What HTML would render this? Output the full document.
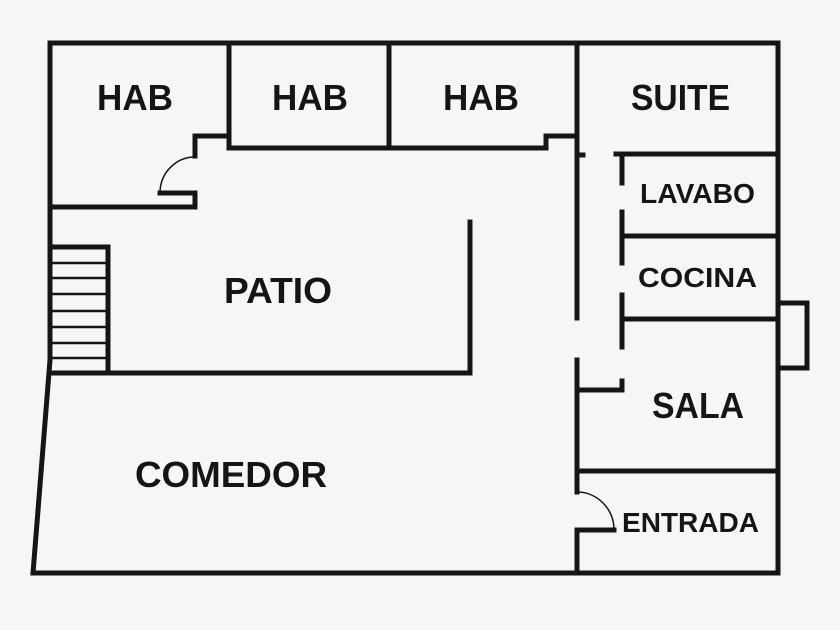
<!DOCTYPE html>
<html><head><meta charset="utf-8"><style>html,body{margin:0;padding:0;background:#f6f6f6}svg{display:block}</style></head>
<body>
<svg width="840" height="630" viewBox="0 0 840 630" xmlns="http://www.w3.org/2000/svg">
<rect width="840" height="630" fill="#f6f6f6"/>
<g fill="none" stroke="#151515" stroke-width="5" stroke-linejoin="miter" stroke-linecap="square">
<!-- outer -->
<path d="M50,43 L778,43 L778,573 L33,573 L50,360 Z"/>
<!-- bump -->
<path d="M778,303 L807,303 L807,368 L778,368"/>
<!-- HAB dividers -->
<path d="M229,43 L229,148 L546,148 L546,136 L577,136"/>
<path d="M389,43 L389,148"/>
<path d="M577,43 L577,318"/>
<path d="M577,155 L583,155"/>
<path d="M229,136 L195,136 L195,156"/>
<path d="M160,193 L195,193 L195,207 L50,207"/>
<!-- stairs -->
<path d="M50,247 L108,247 L108,373"/>
<path d="M50,373 L470,373 L470,222"/>
<!-- right rooms -->
<path d="M616,154 L778,154"/>
<path d="M622,236 L778,236"/>
<path d="M622,319 L778,319"/>
<path d="M622,158 L622,183"/>
<path d="M622,212 L622,263"/>
<path d="M622,295 L622,347"/>
<path d="M577,360 L577,492"/>
<path d="M577,390 L622,390 L622,381"/>
<path d="M577,471 L778,471"/>
<path d="M577,530 L614,530"/>
<path d="M577,530 L577,573"/>
</g>
<g fill="none" stroke="#151515" stroke-width="1.5">
<path d="M195,157 A35,36 0 0 0 160,193"/>
<path d="M577,492 A37,38 0 0 1 614,530"/>
</g>
<g fill="#151515" font-family="Liberation Sans, sans-serif" font-weight="bold" text-anchor="start">
<text x="97" y="110" font-size="36" textLength="76" lengthAdjust="spacingAndGlyphs">HAB</text>
<text x="272" y="110" font-size="36" textLength="76" lengthAdjust="spacingAndGlyphs">HAB</text>
<text x="443" y="110" font-size="36" textLength="76" lengthAdjust="spacingAndGlyphs">HAB</text>
<text x="631" y="110" font-size="36" textLength="99" lengthAdjust="spacingAndGlyphs">SUITE</text>
<text x="224" y="303" font-size="36" textLength="108" lengthAdjust="spacingAndGlyphs">PATIO</text>
<text x="640" y="203" font-size="28" textLength="115" lengthAdjust="spacingAndGlyphs">LAVABO</text>
<text x="638" y="287" font-size="28" textLength="119" lengthAdjust="spacingAndGlyphs">COCINA</text>
<text x="652" y="418" font-size="36" textLength="92" lengthAdjust="spacingAndGlyphs">SALA</text>
<text x="622" y="532" font-size="28" textLength="137" lengthAdjust="spacingAndGlyphs">ENTRADA</text>
<text x="135" y="487" font-size="36" textLength="192" lengthAdjust="spacingAndGlyphs">COMEDOR</text>
</g>
<g stroke="#151515" stroke-width="2.5">
<line x1="50" y1="263" x2="108" y2="263"/>
<line x1="50" y1="278" x2="108" y2="278"/>
<line x1="50" y1="294" x2="108" y2="294"/>
<line x1="50" y1="311" x2="108" y2="311"/>
<line x1="50" y1="327" x2="108" y2="327"/>
<line x1="50" y1="343" x2="108" y2="343"/>
<line x1="50" y1="358" x2="108" y2="358"/>
</g>
</svg>
</body></html>
